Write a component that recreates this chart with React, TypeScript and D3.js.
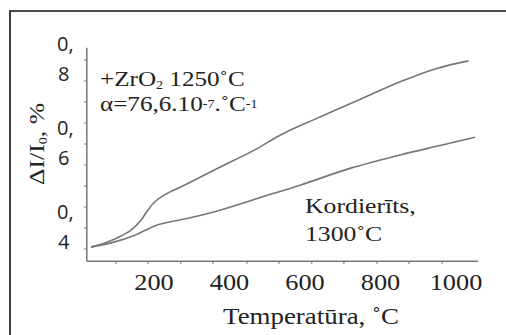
import React, { useEffect, useRef } from 'react';
import * as d3 from 'd3';

const zrTemp = [34, 78, 113, 139, 166, 184, 203, 228, 272, 377, 467, 534, 631, 763, 852, 949, 1033];
const zrValue = [0.354, 0.367, 0.381, 0.395, 0.419, 0.443, 0.463, 0.479, 0.498, 0.546, 0.586, 0.621, 0.661, 0.713, 0.748, 0.78, 0.798];
const korTemp = [33, 96, 149, 202, 290, 377, 480, 587, 719, 852, 966, 1050];
const korValue = [0.355, 0.367, 0.383, 0.405, 0.423, 0.443, 0.472, 0.502, 0.542, 0.574, 0.598, 0.616];

const xTickLabels = [200, 400, 600, 800, 1000];
const xMinorTicks = [99, 184, 271, 356, 446, 531, 618, 703, 791, 875, 963];
const yTickLabels = [0.4, 0.6, 0.8];
const yMinorTicks = [0.35, 0.4, 0.45, 0.5, 0.55, 0.6, 0.65, 0.7, 0.75, 0.8];
const xExtent = [22, 1058];
const yExtent = [0.321, 0.829];

const serif = '"Liberation Serif", "Times New Roman", serif';
const sans = '"Open Sans", sans-serif';
const lineColor = '#767676';
const textColor = '#222';
const stretch = 1.17;

function App() {
  const ref = useRef<SVGSVGElement>(null);

  useEffect(() => {
    const svg = d3.select(ref.current);
    svg.selectAll('*').remove();

    const x = d3.scaleLinear().domain([0, 1000]).range([78.5, 456]);
    const y = d3.scaleLinear().domain([0.4, 0.8]).range([228, 60]);

    svg.append('rect').attr('width', 506).attr('height', 335).attr('fill', '#fff');

    // outer frame (only top and left visible)
    svg.append('path')
      .attr('d', 'M10,335V11H506')
      .attr('fill', 'none')
      .attr('stroke', '#111')
      .attr('stroke-width', 1.6);

    const g = svg.append('g');

    // axes
    g.append('line')
      .attr('x1', x(xExtent[0])).attr('x2', x(xExtent[1]))
      .attr('y1', y(yExtent[0])).attr('y2', y(yExtent[0]))
      .attr('stroke', lineColor).attr('stroke-width', 1.5);
    g.append('line')
      .attr('x1', x(xExtent[0])).attr('x2', x(xExtent[0]))
      .attr('y1', y(yExtent[0])).attr('y2', y(yExtent[1]))
      .attr('stroke', lineColor).attr('stroke-width', 1.5);

    g.selectAll('.xtick').data(xMinorTicks).enter().append('line')
      .attr('class', 'xtick')
      .attr('x1', d => x(d)).attr('x2', d => x(d))
      .attr('y1', y(yExtent[0])).attr('y2', y(yExtent[0]) + 2.5)
      .attr('stroke', lineColor).attr('stroke-width', 1.2);
    g.selectAll('.ytick').data(yMinorTicks).enter().append('line')
      .attr('class', 'ytick')
      .attr('x1', x(xExtent[0]) - 2.5).attr('x2', x(xExtent[0]))
      .attr('y1', d => y(d)).attr('y2', d => y(d))
      .attr('stroke', lineColor).attr('stroke-width', 1.2);

    // x tick labels
    g.selectAll('.xlabel').data(xTickLabels).enter().append('text')
      .attr('class', 'xlabel')
      .attr('transform', d => `translate(${x(d)},290) scale(${stretch},1)`)
      .attr('text-anchor', 'middle')
      .style('font-family', serif)
      .style('font-size', '22.5px')
      .attr('fill', textColor)
      .text(d => d);

    // y tick labels, wrapped as "0," / "8"
    const yl = g.selectAll('.ylabel').data(yTickLabels).enter().append('text')
      .attr('class', 'ylabel')
      .style('font-family', sans)
      .style('font-size', '20px')
      .attr('fill', textColor);
    yl.append('tspan')
      .attr('x', 57).attr('y', d => y(d) - 9)
      .text(d => d3.format('.1f')(d).replace('.', ',').slice(0, 2));
    yl.append('tspan')
      .attr('x', 58).attr('y', d => y(d) + 21)
      .text(d => d3.format('.1f')(d).slice(2));

    // curves
    const line = d3.line<[number, number]>()
      .x(d => x(d[0]))
      .y(d => y(d[1]))
      .curve(d3.curveMonotoneX);
    const series = [d3.zip(zrTemp, zrValue), d3.zip(korTemp, korValue)];
    g.selectAll('.curve').data(series).enter().append('path')
      .attr('class', 'curve')
      .attr('d', d => line(d as [number, number][]))
      .attr('fill', 'none')
      .attr('stroke', lineColor)
      .attr('stroke-width', 1.6);

    const txt = (tx: number, ty: number, size: number, rot = 0) => g.append('text')
      .attr('transform', `translate(${tx},${ty}) rotate(${rot}) scale(${stretch},1)`)
      .style('font-family', serif)
      .style('font-size', size + 'px')
      .attr('fill', textColor);

    // annotations
    const a1 = txt(100, 86, 21.5);
    a1.append('tspan').text('+ZrO');
    a1.append('tspan').attr('dy', 3).style('font-size', '12px').text('2');
    a1.append('tspan').attr('dy', -3).text(' 1250˚C');

    const a2 = txt(100, 111, 21.5);
    a2.append('tspan').text('α=76,6.10');
    a2.append('tspan').attr('dy', -3).style('font-size', '12px').text('-7');
    a2.append('tspan').attr('dy', 3).text('.˚C');
    a2.append('tspan').attr('dy', -3).style('font-size', '12px').text('-1');

    txt(305, 213, 22).text('Kordierīts,');
    txt(305, 241, 22).text('1300˚C');

    // axis titles
    txt(311, 324, 23).attr('text-anchor', 'middle').text('Temperatūra, ˚C');

    const yt = txt(44, 144, 22, -90).attr('text-anchor', 'middle');
    yt.append('tspan').text('ΔI/I');
    yt.append('tspan').attr('dy', 3).style('font-size', '12px').text('0');
    yt.append('tspan').attr('dy', -3).text(', %');
  }, []);

  return (
    <svg ref={ref} width={506} height={335}
      style={{ position: 'absolute', left: 0, top: 0, display: 'block' }} />
  );
}

export default App;
